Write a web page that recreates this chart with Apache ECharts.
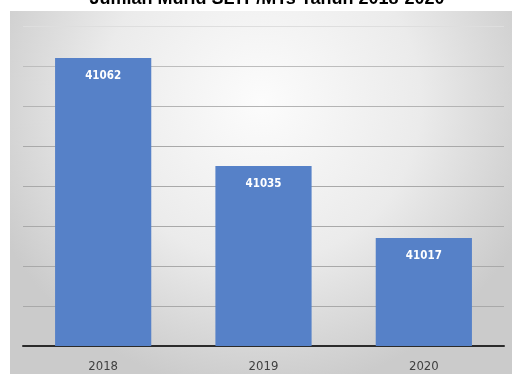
<!DOCTYPE html>
<html>
<head>
<meta charset="utf-8">
<script src="https://cdn.jsdelivr.net/npm/echarts@6/dist/echarts.min.js"></script>
<style>
  html, body { margin: 0; padding: 0; background: #ffffff; }
  #chart { width: 512px; height: 374px; }
</style>
</head>
<body>
<div id="chart"></div>
<script>
// Student counts per year
const years = ['2018', '2019', '2020'];
const students = [41062, 41035, 41017];
const chartTitle = 'Jumlah Murid SLTP/MTs Tahun 2018-2020';

const narrowFont = '"DejaVu Sans Condensed", "Liberation Sans Narrow", sans-serif';

const chart = echarts.init(document.getElementById('chart'), null, { renderer: 'canvas' });

chart.setOption({
  animation: false,
  backgroundColor: '#ffffff',
  title: {
    text: chartTitle,
    left: 262,
    textAlign: 'center',
    top: -15,
    textStyle: { fontFamily: 'Liberation Sans, Arial, sans-serif', fontWeight: 'bold', fontSize: 18, color: '#000000' }
  },
  graphic: [{
    type: 'rect',
    z: -10,
    silent: true,
    shape: { x: 10, y: 11, width: 502, height: 363 },
    style: {
      fill: {
        type: 'radial', x: 0.5, y: 0.25, r: 0.8,
        colorStops: [
          { offset: 0, color: '#fcfcfc' },
          { offset: 0.55, color: '#ebebeb' },
          { offset: 1, color: '#cbcbcb' }
        ]
      }
    }
  }],
  grid: { left: 23, right: 8, top: 26, bottom: 28, containLabel: false },
  xAxis: {
    type: 'category',
    data: years,
    axisLine: { show: true, lineStyle: { color: '#2b2b2b', width: 2 } },
    axisTick: { show: false },
    axisLabel: { color: '#404040', fontSize: 13, margin: 14, fontFamily: narrowFont }
  },
  yAxis: {
    type: 'value',
    min: 40990,
    max: 41070,
    interval: 10,
    axisLabel: { show: false },
    axisLine: { show: false },
    axisTick: { show: false },
    splitLine: {
      show: true,
      lineStyle: {
        color: ['#a9a9a9', '#a9a9a9', '#a9a9a9', '#a9a9a9', '#a9a9a9', '#a9a9a9', '#b4b4b4', '#bdbdbd', '#dedede'],
        width: 1
      }
    }
  },
  series: [{
    type: 'bar',
    data: students,
    barWidth: '60%',
    itemStyle: { color: '#5681c8' },
    label: {
      show: true,
      position: 'insideTop',
      distance: 12,
      color: '#ffffff',
      fontWeight: 'bold',
      fontSize: 11.5,
      fontFamily: narrowFont
    }
  }]
});
</script>
</body>
</html>
